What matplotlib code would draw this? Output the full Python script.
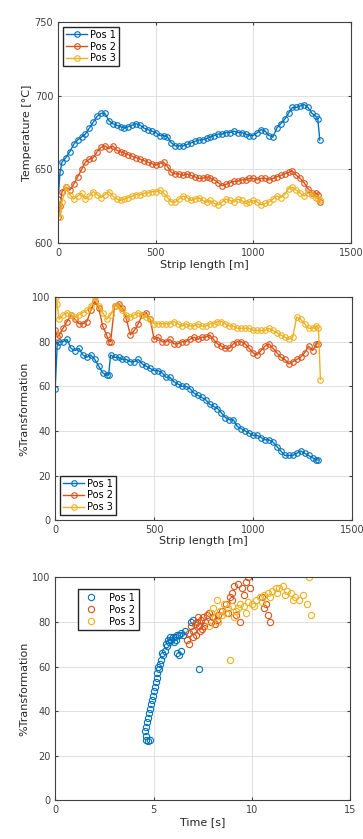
import matplotlib
matplotlib.use('Agg')
import matplotlib.pyplot as plt

# strip length positions [m]
x1 = [0, 10, 20, 40, 60, 80, 100, 120, 140, 160, 180, 200, 220, 240, 260, 280, 300, 320, 340, 360,
      380, 400, 420, 440, 460, 480, 500, 520, 540, 560, 580, 600, 620, 640, 660, 680, 700, 720, 740, 760,
      780, 800, 820, 840, 860, 880, 900, 920, 940, 960, 980, 1000, 1020, 1040, 1060, 1080, 1100, 1120, 1140, 1160,
      1180, 1200, 1220, 1240, 1260, 1280, 1300, 1320, 1330, 1340]
temp1 = [630, 648, 655, 658, 662, 667, 670, 672, 674, 678, 682, 686, 688, 688, 683, 681, 680, 679, 678, 679,
         680, 681, 680, 678, 677, 676, 675, 673, 673, 672, 668, 666, 666, 666, 667, 668, 669, 670, 670, 671,
         672, 673, 674, 674, 675, 675, 676, 675, 675, 674, 673, 673, 675, 677, 676, 673, 672, 678, 681, 684,
         688, 692, 692, 693, 694, 692, 688, 686, 684, 670]
temp2 = [618, 625, 635, 638, 636, 640, 645, 650, 655, 657, 658, 662, 665, 666, 664, 666, 663, 662, 661, 660,
         659, 658, 657, 656, 655, 654, 653, 654, 655, 652, 648, 647, 647, 646, 647, 646, 645, 644, 644, 645,
         644, 643, 641, 639, 640, 641, 642, 642, 643, 643, 644, 644, 643, 644, 644, 643, 644, 645, 646, 647,
         648, 649, 646, 644, 641, 637, 634, 634, 633, 628]
temp3 = [622, 618, 628, 638, 633, 630, 632, 634, 630, 632, 635, 633, 631, 633, 635, 632, 630, 629, 630, 631,
         632, 633, 633, 634, 634, 635, 635, 636, 634, 631, 628, 628, 630, 632, 631, 629, 630, 631, 629, 628,
         629, 627, 626, 628, 630, 629, 628, 630, 629, 627, 628, 629, 628, 626, 627, 628, 630, 632, 631, 633,
         637, 638, 636, 634, 632, 634, 633, 631, 630, 629]

x2 = [0, 10, 20, 40, 60, 80, 100, 120, 140, 160, 180, 200, 220, 240, 260, 270, 280, 300, 320, 340,
      360, 380, 400, 420, 440, 460, 480, 500, 520, 540, 560, 580, 600, 620, 640, 660, 680, 700, 720, 740,
      760, 780, 800, 820, 840, 860, 880, 900, 920, 940, 960, 980, 1000, 1020, 1040, 1060, 1080, 1100, 1120, 1140,
      1160, 1180, 1200, 1220, 1240, 1260, 1280, 1300, 1320, 1330]
tr1 = [59, 78, 80, 80, 81, 77, 76, 77, 74, 73, 74, 72, 69, 66, 65, 65, 74, 73, 73, 72,
       72, 71, 71, 72, 70, 69, 68, 67, 67, 66, 64, 64, 62, 61, 60, 60, 59, 57, 56, 55,
       54, 52, 51, 50, 48, 46, 45, 45, 42, 41, 40, 39, 38, 38, 37, 36, 36, 35, 33, 31,
       29, 29, 29, 30, 31, 30, 29, 28, 27, 27]
tr2 = [85, 82, 83, 86, 89, 92, 90, 88, 88, 89, 94, 98, 95, 87, 83, 80, 80, 96, 97, 95,
       90, 83, 85, 88, 92, 93, 90, 81, 82, 80, 80, 81, 79, 79, 80, 80, 81, 82, 81, 82,
       82, 83, 81, 79, 78, 77, 77, 79, 80, 80, 79, 77, 75, 74, 76, 78, 79, 77, 75, 73,
       72, 70, 71, 72, 73, 75, 78, 76, 79, 79]
x3 = [0, 5, 10, 20, 40, 60, 80, 100, 120, 140, 160, 180, 200, 220, 240, 260, 280, 300, 320, 340,
      360, 380, 400, 420, 440, 460, 480, 500, 520, 540, 560, 580, 600, 620, 640, 660, 680, 700, 720, 740,
      760, 780, 800, 820, 840, 860, 880, 900, 920, 940, 960, 980, 1000, 1020, 1040, 1060, 1080, 1100, 1120, 1140,
      1160, 1180, 1200, 1220, 1240, 1260, 1280, 1300, 1320, 1330, 1340]
tr3 = [84, 100, 97, 90, 92, 93, 92, 91, 92, 93, 94, 96, 100, 96, 93, 90, 92, 96, 96, 94,
       92, 91, 92, 93, 92, 91, 90, 88, 88, 88, 88, 88, 89, 88, 87, 88, 87, 87, 88, 87,
       87, 88, 88, 89, 89, 88, 87, 87, 86, 86, 86, 86, 85, 85, 85, 85, 86, 85, 84, 83,
       82, 81, 82, 91, 90, 88, 86, 86, 87, 86, 63]

# time [s] vs transformation
t1 = [4.6, 4.7, 4.8, 4.6, 4.55, 4.6, 4.65, 4.7, 4.75, 4.8, 4.85, 4.9, 4.95, 5.0, 5.05, 5.1, 5.15, 5.2,
      5.3, 5.35, 5.4, 5.5, 5.6, 5.7, 5.8, 5.9, 6.0, 6.1, 6.2, 6.3, 6.4, 6.5, 6.3, 6.4, 6.2, 7.0, 6.9, 7.3, 6.6,
      5.25, 5.45, 5.65, 5.75, 5.85, 6.05, 6.15]
p1 = [27, 26.5, 27, 29, 31, 33, 35, 37, 39, 41, 43, 45, 47, 49, 51, 53, 55, 57,
      59, 61, 63, 65, 67, 69, 71, 72, 73, 73, 74, 74, 75, 74, 65, 67, 66, 81, 80, 59, 76,
      60, 66, 70, 72, 73, 71, 72]
t2 = [6.7, 6.8, 6.9, 7.0, 7.1, 7.2, 7.3, 7.4, 7.5, 7.6, 7.7, 7.8, 7.9, 8.0, 8.1, 8.2, 8.3, 8.5,
      8.7, 8.9, 9.0, 9.1, 9.3, 9.5, 9.7, 9.8, 9.6, 9.4, 9.2, 8.8, 10.6, 10.8, 10.9, 10.7, 10.5, 6.8, 7.0,
      7.15, 7.35, 7.55, 7.25, 7.45, 9.9, 9.0]
p2 = [72, 75, 78, 76, 79, 80, 78, 81, 82, 80, 83, 84, 80, 82, 79, 81, 83, 85,
      88, 91, 93, 96, 97, 95, 98, 100, 92, 80, 83, 84, 86, 83, 80, 88, 91, 70, 73,
      74, 76, 78, 82, 77, 95, 90]
t3 = [7.8, 8.0, 8.2, 8.4, 8.6, 8.8, 8.9, 9.0, 9.2, 9.4, 9.6, 9.8, 10.0, 10.2, 10.4, 10.6, 10.8, 11.0,
      11.2, 11.4, 11.6, 11.8, 12.0, 12.2, 12.4, 12.6, 12.8, 13.0, 12.9, 8.1, 8.3, 7.9, 8.5, 9.1,
      9.3, 9.7, 10.1, 10.5, 10.9, 11.3, 11.7, 12.1, 8.7]
p3 = [78, 86, 90, 85, 88, 86, 63, 87, 85, 88, 87, 89, 88, 90, 91, 92, 93, 94,
      95, 95, 96, 94, 93, 91, 90, 92, 88, 83, 100, 82, 80, 84, 83, 82,
      86, 84, 87, 89, 91, 93, 92, 90, 84]

colors = ['#0072BD', '#D95319', '#EDB120']
labels = ['Pos 1', 'Pos 2', 'Pos 3']

plt.rcParams['font.family'] = 'DejaVu Sans'
plt.rcParams['font.size'] = 7

fig = plt.figure(figsize=(3.63, 8.39), dpi=100)
ax1 = fig.add_axes([0.160, 0.710, 0.807, 0.264])
ax2 = fig.add_axes([0.152, 0.380, 0.818, 0.266])
ax3 = fig.add_axes([0.152, 0.046, 0.813, 0.266])


def style(ax):
    ax.grid(True, color='#dcdcdc', linewidth=0.6)
    ax.set_axisbelow(True)
    ax.tick_params(direction='in', length=2.5, colors='#404040', labelsize=7, top=True, right=True,
                   labeltop=False, labelright=False)
    for s in ax.spines.values():
        s.set_color('#404040')
        s.set_linewidth(0.8)


for y, c, l in zip([temp1, temp2, temp3], colors, labels):
    ax1.plot(x1, y, '-o', color=c, mfc='none', ms=4, lw=1, mew=0.8, label=l)
ax1.set_xlim(0, 1500)
ax1.set_ylim(600, 750)
ax1.set_xticks([0, 500, 1000, 1500])
ax1.set_yticks([600, 650, 700, 750])
ax1.set_xlabel('Strip length [m]', fontsize=8, color='#262626', labelpad=1)
ax1.set_ylabel('Temperature [°C]', fontsize=8, color='#262626', labelpad=2)
style(ax1)
ax1.legend(loc='upper left', fontsize=7, fancybox=False, edgecolor='#262626', framealpha=1,
           handlelength=2.2, borderpad=0.3, labelspacing=0.2, handletextpad=0.3)

for xx, y, c, l in zip([x2, x2, x3], [tr1, tr2, tr3], colors, labels):
    ax2.plot(xx, y, '-o', color=c, mfc='none', ms=4, lw=1, mew=0.8, label=l)
ax2.set_xlim(0, 1500)
ax2.set_ylim(0, 100)
ax2.set_xticks([0, 500, 1000, 1500])
ax2.set_yticks([0, 20, 40, 60, 80, 100])
ax2.set_xlabel('Strip length [m]', fontsize=8, color='#262626', labelpad=1)
ax2.set_ylabel('%Transformation', fontsize=8, color='#262626', labelpad=2)
style(ax2)
ax2.legend(loc='lower left', fontsize=7, fancybox=False, edgecolor='#262626', framealpha=1,
           handlelength=2.2, borderpad=0.3, labelspacing=0.2, handletextpad=0.3)

for xx, y, c, l in zip([t1, t2, t3], [p1, p2, p3], colors, labels):
    ax3.plot(xx, y, 'o', color=c, mfc='none', ms=4.5, mew=0.8, label=l)
ax3.set_xlim(0, 15)
ax3.set_ylim(0, 100)
ax3.set_xticks([0, 5, 10, 15])
ax3.set_yticks([0, 20, 40, 60, 80, 100])
ax3.set_xlabel('Time [s]', fontsize=8, color='#262626', labelpad=1)
ax3.set_ylabel('%Transformation', fontsize=8, color='#262626', labelpad=2)
style(ax3)
ax3.legend(loc='upper left', fontsize=7, fancybox=False, edgecolor='#262626', framealpha=1,
           borderpad=0.4, labelspacing=0.2, handletextpad=0.8, bbox_to_anchor=(0.06, 0.97))

fig.savefig('out.png', dpi=100)
